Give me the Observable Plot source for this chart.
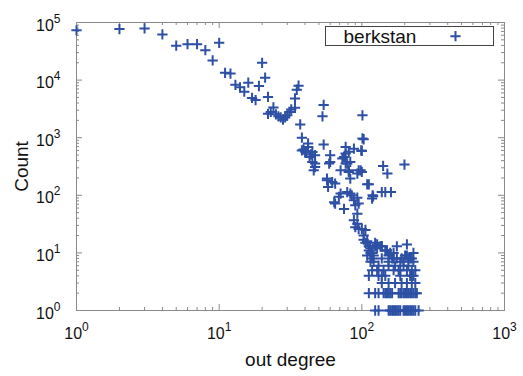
<!DOCTYPE html>
<html><head><meta charset="utf-8">
<script src="https://cdn.jsdelivr.net/npm/d3@7"></script>
<script src="https://cdn.jsdelivr.net/npm/@observablehq/plot@0.6"></script>
<style>body{margin:0;background:#fff}</style>
</head><body><div id="chart"></div>
<script>
// ---- data ----
const seriesName = "berkstan";
const xTitle = "out degree";
const yTitle = "Count";
const xTicks = [1, 10, 100, 1000];
const yTicks = [1, 10, 100, 1000, 10000, 100000];
const outDegree = [
  1,2,3,4,5,6,7,8,9,10,11,12,13,14,15,16,17,18,19,20,21,22,22,23,24,25,26,27,28,29,30,31,32,34,34,35,36,
  37,38,38,40,42,44,47,43,45,41,39,42,
  54,53,54,45,47,46,47,60,60,59,57,62,65,58,57,
  73,77,83,71,81,95,100,77,77,81,88,99,75,79,81,93,98,
  101,101,100,103,141,151,199,138,160,146,109,112,83,120,118,119,
  71,79,85,69,93,64,65,75,83,88,90,95,93,88,93,90,95,106,100,103,103,109,106,124,
  112,115,118,121,128,138,150,154,163,176,190,201,212,224,109,112,115,118,124,135,146,158,138,154,167,176,207,230,207,218,230,237,224,186,196,115,118,112,128,138,150,167,
  121,131,142,154,167,181,196,212,224,171,186,207,
  131,146,186,218,230,128,138,
  138,154,171,190,207,224,237,
  112,124,131,142,146,150,154,158,163,181,186,190,196,201,207,212,218,224,230,237,243,
  124,131,154,158,163,167,171,176,181,186,196,201,207,212,218,224,230,237,250
];
const count = [
  73000,77000,79000,62000,39500,42000,42000,33000,22000,44500,13400,13000,8300,7500,6300,9000,4900,4500,7900,20000,11000,5100,2600,2800,3350,2550,2350,2250,2050,2250,2450,2800,3100,3300,4800,6800,8000,
  1700,1000,600,570,690,515,496,464,567,582,624,794,
  3700,2350,760,379,310,272,356,496,379,356,182,170,160,140,195,
  435,531,379,272,254,272,254,356,690,570,645,600,464,356,272,238,272,
  2450,970,590,940,323,238,342,114,114,114,155,155,195,96,88,100,
  107,114,100,94,91,76,72,58,107,82,67,72,48,37,32,28,26,25,26,20,17,16,15,15,
  13,12,10,9,12,13,11,9,8,8,8,9,8,8,9,11,10,8,13,13,11,10,8,7,8,13,14,10,9,8,7,5,4,7,7,7,5,4,14,13,11,10,
  7,6,5,6,5,5,6,6,5,6,5,5,
  4,4,4,4,4,5,4,
  3,3,3,3,3,3,3,
  2,2,2,2,2,2,2,2,2,2,2,2,2,2,2,2,2,2,2,2,2,
  1,1,1,1,1,1,1,1,1,1,1,1,1,1,1,1,1,1,1
];

// ---- layout ----
const W = 523, H = 376, mL = 76, mR = 19, mT = 22, mB = 66;
const fw = W - mL - mR, fh = H - mT - mB;
const blue = "#2d50a5", gray = "#8a8a8a", ink = "#111";
const data = outDegree.map((d, i) => ({d, c: count[i]}));
const minor = (n) => d3.range(0, n).flatMap(e => d3.range(2, 10).map(k => k * 10 ** e));
const xMinor = minor(3), yMinor = minor(5);
const expFmt = d => "10^" + Math.round(Math.log10(d));

const plot = Plot.plot({
  width: W, height: H,
  marginLeft: mL, marginRight: mR, marginTop: mT, marginBottom: mB,
  x: {type: "log", domain: [1, 1000]},
  y: {type: "log", domain: [1, 1e5]},
  style: {fontFamily: "'Liberation Sans', Arial, sans-serif", background: "#fff", color: ink},
  marks: [
    // inward ticks on all four sides
    Plot.tickX(xTicks, {x: d => d, stroke: gray, insetTop: fh - 6}),
    Plot.tickX(xTicks, {x: d => d, stroke: gray, insetBottom: fh - 6}),
    Plot.tickX(xMinor, {x: d => d, stroke: gray, insetTop: fh - 3}),
    Plot.tickX(xMinor, {x: d => d, stroke: gray, insetBottom: fh - 3}),
    Plot.tickY(yTicks, {y: d => d, stroke: gray, insetRight: fw - 6}),
    Plot.tickY(yTicks, {y: d => d, stroke: gray, insetLeft: fw - 6}),
    Plot.tickY(yMinor, {y: d => d, stroke: gray, insetRight: fw - 3}),
    Plot.tickY(yMinor, {y: d => d, stroke: gray, insetLeft: fw - 3}),
    Plot.frame({stroke: gray}),
    Plot.axisX(xTicks, {anchor: "bottom", tickSize: 0, tickPadding: 17, fontSize: 16, fill: ink, tickFormat: expFmt, label: null}),
    Plot.axisY(yTicks, {anchor: "left", tickSize: 0, tickPadding: 16, dy: 3, fontSize: 16, fill: ink, tickFormat: expFmt, label: null}),
    Plot.text([xTitle], {frameAnchor: "bottom", dy: 49, fontSize: 19, fill: ink, textAnchor: "middle", lineAnchor: "middle"}),
    Plot.text([yTitle], {frameAnchor: "left", dx: -55, rotate: -90, fontSize: 19, fill: ink, textAnchor: "middle", lineAnchor: "middle"}),
    Plot.dot(data, {x: "d", y: "c", symbol: "plus", r: 3.4, stroke: blue, strokeWidth: 2}),
    // legend
    Plot.frame({insetLeft: 249, insetRight: 11, insetTop: 4, insetBottom: fh - 23, stroke: "#444", fill: "#fff"}),
    Plot.text([seriesName], {frameAnchor: "top-right", dx: -161, dy: 14.6, textAnchor: "start", lineAnchor: "middle", fontSize: 19, fill: ink}),
    Plot.dot([seriesName], {frameAnchor: "top-right", dx: -49, dy: 13.7, symbol: "plus", r: 3.4, stroke: blue, strokeWidth: 2})
  ]
});

// turn "10^k" tick labels into 10 with a superscript exponent
d3.select(plot).selectAll('g[aria-label$="tick label"] text').each(function () {
  const s = this.textContent;
  const m = /^10\^(\d+)$/.exec(s);
  if (!m) return;
  const t = d3.select(this);
  t.text(null);
  t.append("tspan").text("10");
  t.append("tspan").attr("dy", -8).attr("font-size", 12).text(m[1]);
});

document.getElementById("chart").appendChild(plot);
</script>
</body></html>
